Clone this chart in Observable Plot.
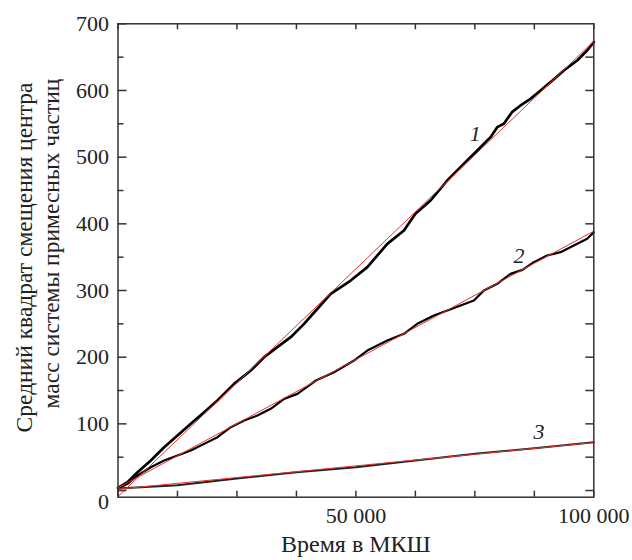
<!DOCTYPE html>
<html><head><meta charset="utf-8">
<script src="https://cdn.jsdelivr.net/npm/d3@7"></script>
<script src="https://cdn.jsdelivr.net/npm/@observablehq/plot@0.6"></script>
<style>
body{margin:0;background:#fff}
#chart svg, #chart svg text {font-family: "Liberation Serif", "Times New Roman", serif !important;}
</style>
</head><body><div id="chart"></div>
<script>
// --- data ---
const c1x = [0,2000,4100,6900,9700,12500,15300,18100,20900,24400,27900,30700,33500,36300,39100,41600,44700,48900,52400,56600,60100,62500,65700,69200,72700,75500,78300,79700,81100,82800,84600,86700,88800,90900,93700,96500,98600,100000];
const c1y = [4,12.5,27.5,45,65,82.5,100,117.5,135,160,180,200,215,230,250,270,295,315,335,370,390,415,435,465,490,510,530,545,550,567.5,577.5,587.5,600,612.5,630,645,660,672.5];
const c2x = [0,2000,4100,6900,9700,12500,15300,18100,20900,23700,26500,29300,32100,34900,37700,41600,45400,49600,52400,56600,60100,62900,66400,69200,72000,74800,76900,79700,82500,85000,87400,90200,93000,95800,98600,100000];
const c2y = [3,10,22.5,35,45,52.5,60,70,80,95,105,112.5,122.5,137.5,145,165,177.5,195,210,225,235,250,262.5,270,277.5,285,300,310,325,331,342.5,352.5,357.5,367.5,377.5,387.5];
const c3x = [0,12500,25000,37500,50000,62500,75000,87500,100000];
const c3y = [3,8,18,27.5,35,45,55,63.5,72.5];
const fitX = [0,100000];
const fit1 = [-9,674];
const fit2 = [4,389];
const fit3 = [2,72];
const curveLabels = ["1","2","3"];
const labelX = [75100,84300,88500];
const labelY = [535,352.5,87.5];
const yLabeled = [100,200,300,400,500,600,700];
const yZero = [0];
const yMajor = [0,100,200,300,400,500,600,700];
const yMinor = [50,150,250,350,450,550,650];
const yAll = [0,50,100,150,200,250,300,350,400,450,500,550,600,650];
const xTicks = [0,12500,25000,37500,50000,62500,75000,87500,100000];
const xLabeled = [50000,100000];
const xTitle = "Время в МКШ";
const yTitle1 = "Средний квадрат смещения центра";
const yTitle2 = "масс системы примесных частиц";

const pts = (xs, ys) => xs.map((x, i) => ({x, y: ys[i]}));
const W = 632, H = 560, ML = 117.5, MR = 38.7, MT = 23.3, MB = 63.3;
const FW = W - ML - MR, FH = H - MT - MB;
const serif = "Liberation Serif";
const fmt = d => d3.format(",")(d).replace(/,/g, "\u00a0");
const tickStyle = {stroke: "#333", strokeWidth: 1.5};
const axisText = {tickSize: 0, fontSize: 22, fontFamily: serif, label: null, fill: "#222"};

const chart = Plot.plot({
  width: W, height: H,
  marginLeft: ML, marginRight: MR, marginTop: MT, marginBottom: MB,
  style: {background: "#fff", color: "#222"},
  x: {domain: [0, 100000]},
  y: {domain: [-10, 700]},
  marks: [
    Plot.line(pts(c1x, c1y), {x: "x", y: "y", stroke: "#000", strokeWidth: 2.7}),
    Plot.line(pts(c2x, c2y), {x: "x", y: "y", stroke: "#000", strokeWidth: 2.2}),
    Plot.line(pts(c3x, c3y), {x: "x", y: "y", stroke: "#222", strokeWidth: 2}),
    Plot.line(pts(fitX, fit1), {x: "x", y: "y", stroke: "#e8322a", strokeWidth: 1}),
    Plot.line(pts(fitX, fit2), {x: "x", y: "y", stroke: "#e8322a", strokeWidth: 1}),
    Plot.line(pts(fitX, fit3), {x: "x", y: "y", stroke: "#e8322a", strokeWidth: 1}),
    Plot.text(curveLabels.map((t, i) => ({t, x: labelX[i], y: labelY[i]})), {x: "x", y: "y", text: "t", fontSize: 22, fontStyle: "italic", fontFamily: serif, fill: "#222"}),
    Plot.ruleY(yMajor, {y: d => d, insetRight: FW - 9, ...tickStyle}),
    Plot.ruleY(yMinor, {y: d => d, insetRight: FW - 6, ...tickStyle}),
    Plot.ruleY(yAll, {y: d => d, insetLeft: FW - 8, ...tickStyle}),
    Plot.ruleX(xTicks, {x: d => d, insetTop: FH - 6, ...tickStyle}),
    Plot.ruleX(xTicks, {x: d => d, insetBottom: FH - 6, ...tickStyle}),
    Plot.frame({stroke: "#333", strokeWidth: 1.5}),
    Plot.axisY(yLabeled, {anchor: "left", tickPadding: 9, ...axisText}),
    Plot.axisY(yZero, {anchor: "left", tickPadding: 9, dy: 11, ...axisText}),
    Plot.axisX(xLabeled, {anchor: "bottom", tickPadding: 10, tickFormat: fmt, ...axisText}),
    Plot.text([xTitle], {frameAnchor: "bottom", dy: 55, fontSize: 24, fontFamily: serif, fill: "#222"}),
    Plot.text([yTitle1], {frameAnchor: "left", textAnchor: "middle", dx: -93.5, dy: -3, rotate: -90, fontSize: 23.5, fontFamily: serif, fill: "#222"}),
    Plot.text([yTitle2], {frameAnchor: "left", textAnchor: "middle", dx: -67, dy: -17, rotate: -90, fontSize: 23.5, fontFamily: serif, fill: "#222"})
  ]
});
document.getElementById("chart").appendChild(chart);
</script>
</body></html>
